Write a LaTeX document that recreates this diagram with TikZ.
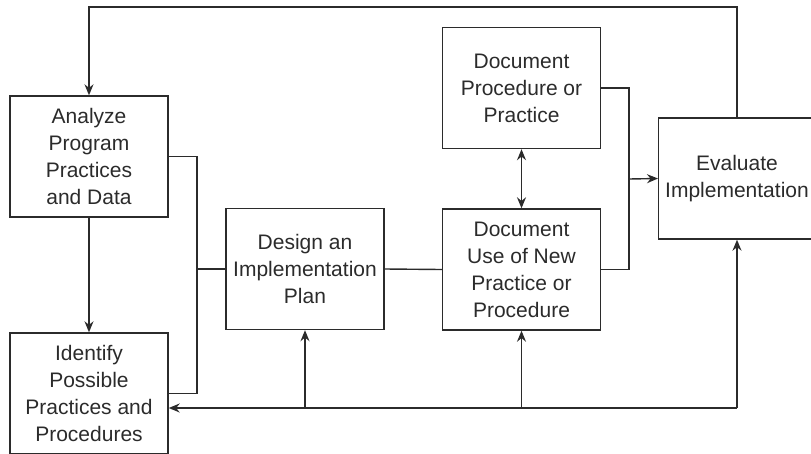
\documentclass[tikz,border=0pt]{standalone}
\usepackage{fontspec}
\setmainfont{Liberation Sans}
\usetikzlibrary{arrows.meta}
\definecolor{ink}{HTML}{2B2B2B}
\begin{document}
\begin{tikzpicture}[x=1pt,y=-1pt,
  txt/.style={inner sep=0pt,align=center,text=ink,font=\fontsize{21}{27}\selectfont},
  box/.style={txt,draw=ink,line width=1.4pt,rectangle,minimum width=158pt,minimum height=121pt},
  conn/.style={draw=ink,line width=1.4pt},
  arr/.style={conn,-{Stealth[length=11pt,width=9pt]}},
  darr/.style={conn,{Stealth[length=11pt,width=9pt]}-{Stealth[length=11pt,width=9pt]}}]
\useasboundingbox (0,0) rectangle (811,453);
\clip (0,0) rectangle (811,453);
\node[box] (analyze) at (89,156.5) {Analyze\\Program\\Practices\\and Data};
\node[box] (identify) at (89,393.5) {Identify\\Possible\\Practices and\\Procedures};
\node[box] (design) at (305,269) {Design an\\Implementation\\Plan};
\node[box] (docuse) at (521.5,269.5) {Document\\Use of New\\Practice or\\Procedure};
\node[box] (docproc) at (521.5,88) {Document\\Procedure or\\Practice};
% evaluate box runs past the right edge of the picture
\node[box,minimum width=190pt,anchor=west] (evaluate) at (658,178.5) {};
\node[txt] (evaltext) at (737,178.5) {Evaluate\\Implementation};
\coordinate (top) at (737,7);
\coordinate (j1) at (197,269);
\coordinate (j2) at (629,179);
\coordinate (b) at (737,408);
\coordinate (b1) at (305,408);
\coordinate (b2) at (521.5,408);
% feedback loop on top
\draw[arr] (top|-evaluate.north) -- (top) -| (analyze.north);
\draw[arr] (analyze.south) -- (identify.north);
% left merge
\draw[conn] (analyze.east) -| (j1) |- (identify.east);
\draw[conn] (j1) -- (design.west);
\draw[conn] (design.east) -- (docuse.west);
% right merge
\draw[conn] (docproc.east) -| (j2) |- (docuse.east);
\draw[arr] (j2) -- (evaluate.west);
\draw[darr] (docproc.south) -- (docuse.north);
% bottom feedback
\draw[arr] (b) -- (identify.east|-b);
\draw[arr] (b) -- (b|-evaluate.south);
\draw[arr] (b1) -- (design.south);
\draw[arr] (b2) -- (docuse.south);
\end{tikzpicture}
\end{document}
